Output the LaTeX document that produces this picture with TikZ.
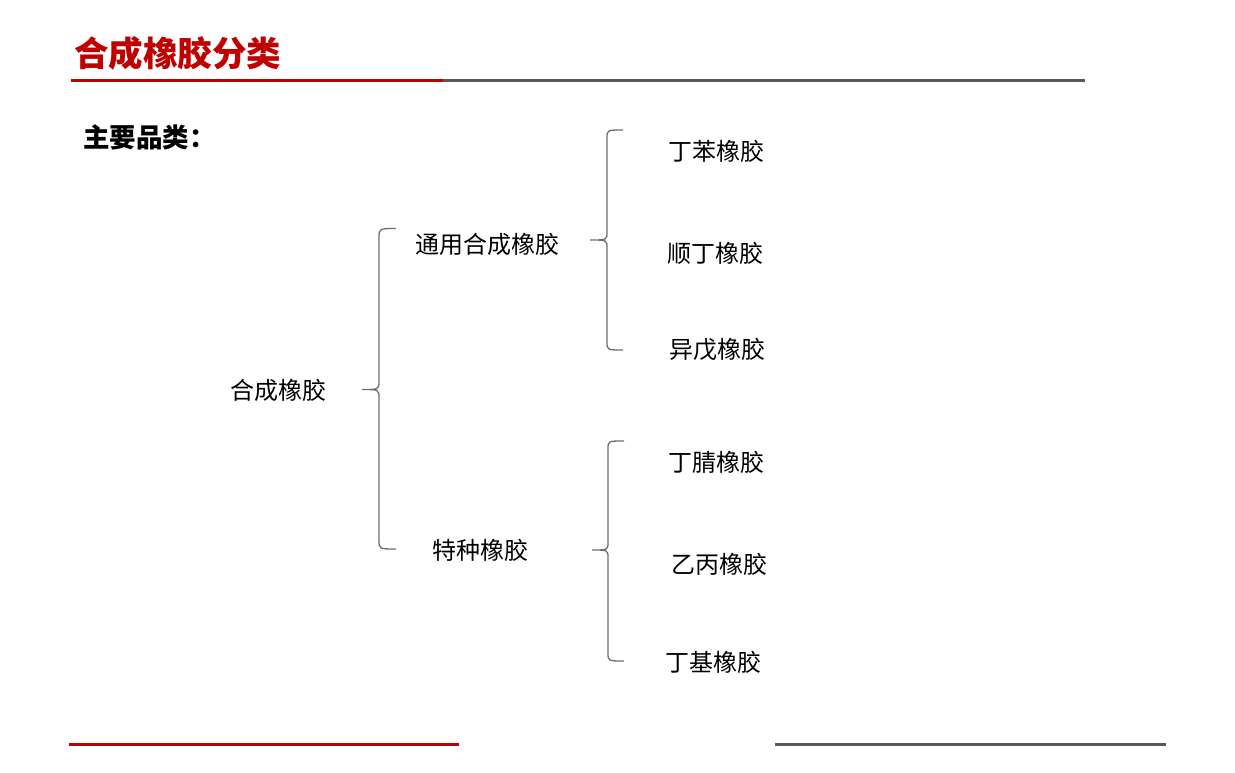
\documentclass[tikz,border=0pt]{standalone}
\usepackage{fontspec}
\newfontfamily\cjk{Noto Sans CJK SC}
\definecolor{titlered}{HTML}{C00000}
\definecolor{linegray}{HTML}{595959}
\definecolor{bracegray}{HTML}{6E6E6E}
\tikzset{
  lbl/.style={font=\cjk\fontsize{24}{28}\selectfont, inner sep=0pt, text=black},
  bracepath/.style={draw=bracegray, line width=1.3pt},
  redrule/.style={draw=titlered, line width=3pt},
  grayrule/.style={draw=linegray, line width=3pt}
}
\begin{document}
\begin{tikzpicture}[x=1pt,y=-1pt]
\useasboundingbox (0,0) rectangle (1235,772);
% title
\node[anchor=west, inner sep=0pt, text=titlered, font=\cjk\bfseries\fontsize{34.5}{38}\selectfont] (title) at (74,53) {合成橡胶分类};
\draw[redrule] (71,80.5) -- (443,80.5);
\draw[grayrule] (443,80.5) -- (1085,80.5);
% subtitle
\node[anchor=west, inner sep=0pt, font=\cjk\bfseries\fontsize{26.5}{30}\selectfont] (sub) at (83,137) {主要品类：};
% labels
\node[lbl] (root) at (278,390) {合成橡胶};
\node[lbl] (gen) at (487,244) {通用合成橡胶};
\node[lbl] (spe) at (480,550) {特种橡胶};
\node[lbl] (g1) at (716,151) {丁苯橡胶};
\node[lbl] (g2) at (715,253) {顺丁橡胶};
\node[lbl] (g3) at (717,350) {异戊橡胶};
\node[lbl] (s1) at (716,462) {丁腈橡胶};
\node[lbl] (s2) at (719,564) {乙丙橡胶};
\node[lbl] (s3) at (713,662) {丁基橡胶};
% braces
\draw[bracepath] (396,228.5) .. controls (379,228.5) .. (379,238) -- (379,381) .. controls (379,389.5) .. (362,389.5) .. controls (379,389.5) .. (379,398) -- (379,540) .. controls (379,549) .. (396,549);
\draw[bracepath] (623,130) .. controls (607,130) .. (607,138) -- (607,232) .. controls (607,240) .. (590,240) .. controls (607,240) .. (607,248) -- (607,342) .. controls (607,350) .. (623,350);
\draw[bracepath] (624,441) .. controls (608,441) .. (608,449) -- (608,542) .. controls (608,550) .. (592,550) .. controls (608,550) .. (608,558) -- (608,653) .. controls (608,661) .. (624,661);
% bottom rules
\draw[redrule] (69,744.5) -- (459,744.5);
\draw[grayrule] (775,744.5) -- (1166,744.5);
\end{tikzpicture}
\end{document}
